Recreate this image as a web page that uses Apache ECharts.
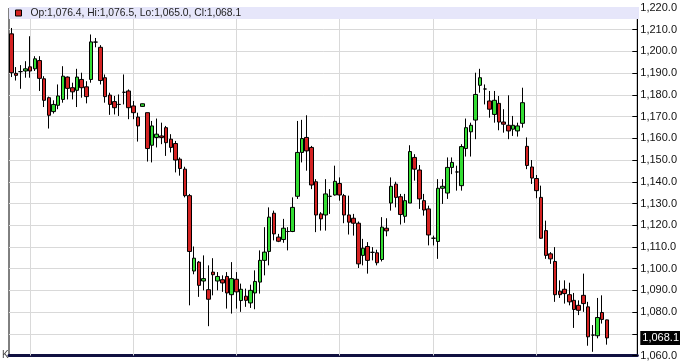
<!DOCTYPE html>
<html>
<head>
<meta charset="utf-8">
<script src="https://cdn.jsdelivr.net/npm/echarts@6/dist/echarts.min.js"></script>
<style>html,body{margin:0;padding:0;background:#fff}#c{width:680px;height:361px}</style>
</head>
<body>
<div id="c"></div>
<script>
// Daily OHLC values: [open, high, low, close]
const ohlc = [
[1208.1,1210.8,1188.2,1190.2],[1189.9,1192.8,1186.6,1189.0],[1190.7,1193.7,1182.8,1190.7],[1191.0,1195.5,1187.9,1192.0],
[1192.9,1207.0,1187.9,1191.0],[1192.0,1197.8,1191.0,1196.6],[1195.8,1197.8,1181.8,1187.6],[1187.4,1188.6,1174.4,1177.5],
[1178.7,1179.2,1164.5,1170.6],[1172.3,1177.5,1171.4,1175.6],[1175.2,1184.8,1173.4,1179.5],[1177.9,1193.2,1176.4,1188.6],
[1188.2,1188.5,1177.9,1183.0],[1183.3,1185.6,1177.9,1181.4],[1182.1,1192.0,1174.4,1188.2],[1187.1,1190.2,1178.7,1183.3],
[1183.7,1186.3,1176.1,1179.2],[1187.1,1207.8,1185.6,1204.4],[1204.3,1206.2,1201.9,1204.3],[1201.9,1202.9,1184.8,1186.6],
[1187.9,1189.4,1176.4,1179.2],[1179.9,1181.0,1170.8,1175.6],[1176.9,1179.5,1171.0,1174.1],[1175.6,1180.2,1170.3,1175.6],
[1181.2,1189.4,1175.6,1181.2],[1181.8,1182.5,1168.8,1174.1],[1174.9,1177.2,1168.8,1171.8],[1169.8,1171.8,1158.5,1165.7],
[1174.7,1176.0,1174.5,1175.9],[1171.8,1171.8,1149.3,1155.3],[1156.8,1168.0,1148.9,1165.7],[1160.4,1169.1,1155.8,1161.9],
[1161.1,1167.2,1157.3,1160.4],[1164.9,1165.7,1151.9,1158.0],[1159.6,1161.9,1153.5,1155.8],[1157.6,1158.8,1144.3,1150.0],
[1150.4,1151.2,1142.8,1146.1],[1145.8,1146.9,1132.8,1133.6],[1133.6,1134.4,1083.1,1107.9],[1098.9,1110.2,1097.4,1104.8],
[1103.0,1103.5,1087.0,1092.3],[1094.3,1106.1,1090.0,1095.4],[1090.3,1101.5,1073.5,1085.9],[1098.4,1104.8,1087.7,1097.2],
[1094.3,1098.4,1090.0,1096.4],[1094.9,1096.9,1089.3,1093.4],[1096.4,1098.4,1081.6,1088.8],[1088.0,1103.0,1079.3,1095.4],
[1095.1,1098.4,1081.6,1089.3],[1085.3,1093.1,1080.1,1090.5],[1087.3,1090.8,1082.4,1085.4],[1084.2,1092.6,1081.9,1090.0],
[1088.8,1099.2,1081.3,1094.1],[1093.8,1108.4,1088.5,1103.8],[1103.8,1119.1,1096.9,1107.6],[1107.9,1128.2,1101.5,1123.7],
[1125.5,1126.7,1113.0,1116.0],[1114.5,1116.0,1112.2,1112.6],[1113.4,1122.9,1111.9,1118.6],[1117.1,1119.1,1108.4,1117.1],
[1117.1,1132.8,1116.8,1128.2],[1133.3,1168.0,1132.1,1153.5],[1153.5,1168.5,1148.9,1159.9],[1160.4,1170.6,1145.1,1154.2],
[1155.8,1156.5,1136.6,1138.5],[1140.0,1141.2,1116.8,1124.7],[1125.2,1126.0,1117.5,1122.9],[1124.7,1141.2,1117.5,1134.4],
[1133.3,1136.6,1125.2,1133.3],[1133.9,1147.4,1133.6,1140.2],[1139.2,1142.0,1131.3,1133.9],[1133.6,1134.4,1120.9,1124.7],
[1124.7,1133.6,1115.7,1121.4],[1123.2,1125.2,1115.2,1120.9],[1120.9,1121.7,1100.3,1102.2],[1106.1,1113.7,1101.5,1109.4],
[1110.2,1112.2,1097.7,1103.8],[1107.5,1109.9,1103.8,1107.5],[1107.3,1108.7,1101.5,1102.7],[1104.2,1123.7,1103.3,1119.1],
[1118.6,1123.2,1114.9,1117.4],[1130.2,1142.0,1126.7,1137.9],[1138.9,1140.0,1128.2,1132.8],[1133.1,1134.4,1120.3,1124.9],
[1124.1,1134.4,1121.1,1131.3],[1130.2,1156.8,1130.2,1153.9],[1151.2,1152.7,1140.5,1145.8],[1145.4,1147.7,1127.5,1132.1],
[1131.3,1134.4,1124.4,1127.0],[1127.5,1129.0,1110.7,1115.5],[1114.0,1115.2,1110.7,1114.0],[1112.5,1141.2,1104.5,1137.0],
[1137.0,1141.2,1129.8,1137.9],[1134.8,1151.2,1132.1,1146.6],[1146.6,1151.2,1143.5,1148.9],[1144.5,1147.4,1135.9,1144.5],
[1138.2,1157.3,1135.9,1156.2],[1155.3,1169.1,1151.6,1164.9],[1163.0,1167.2,1151.6,1166.0],[1168.4,1190.2,1159.6,1180.2],
[1184.4,1192.0,1181.0,1187.9],[1182.7,1184.8,1175.6,1182.7],[1177.2,1181.8,1169.5,1173.4],[1171.0,1181.8,1167.2,1177.5],
[1176.1,1179.5,1163.7,1167.5],[1167.5,1173.4,1162.6,1166.5],[1166.0,1179.8,1159.6,1163.4],[1164.2,1170.3,1161.1,1166.0],
[1163.4,1167.2,1160.8,1165.7],[1166.9,1183.3,1164.9,1176.4],[1156.3,1160.4,1145.8,1147.5],[1146.8,1150.0,1139.0,1141.7],
[1141.5,1143.1,1132.4,1135.9],[1132.8,1138.2,1113.7,1114.0],[1117.5,1122.1,1104.5,1106.1],[1106.8,1107.6,1102.2,1104.5],
[1103.3,1109.9,1084.7,1088.0],[1089.6,1094.6,1086.5,1088.0],[1090.5,1094.6,1083.9,1088.5],[1088.0,1093.5,1083.1,1084.7],
[1085.4,1088.8,1072.7,1081.2],[1083.1,1085.4,1078.6,1080.8],[1087.7,1097.7,1080.1,1083.9],[1082.4,1084.7,1064.5,1068.6],
[1069.4,1074.0,1061.7,1069.4],[1069.1,1086.5,1067.9,1077.5],[1079.8,1087.7,1074.7,1076.6],[1076.4,1076.5,1065.0,1068.1]
];
const emptySlots = 6;                 // blank trading days kept at the right edge
const gridDays = [4, 26, 48, 70, 90, 112]; // day indices carrying a vertical gridline
const yMin = 1060, yMax = 1220, yStep = 10;
const lastBar = { op: 1076.4, hi: 1076.5, lo: 1065.0, cl: 1068.1 };

const categories = [];
for (let i = 0; i < ohlc.length + emptySlots; i++) categories.push('D' + (i + 1));

const fmt = v => v.toLocaleString('en-US', { minimumFractionDigits: 1, maximumFractionDigits: 1 });
const legendName = 'Op:' + fmt(lastBar.op) + ', Hi:' + fmt(lastBar.hi) + ', Lo:' + fmt(lastBar.lo) + ', Cl:' + fmt(lastBar.cl);
const candleData = ohlc.map(d => [d[0], d[3], d[2], d[1]]);

const RED = '#d42222', GREEN = '#33dd33';
const chart = echarts.init(document.getElementById('c'), null, { renderer: 'canvas' });
chart.setOption({
  animation: false,
  backgroundColor: '#fff',
  textStyle: { fontFamily: 'Liberation Sans, Arial, sans-serif' },
  grid: { left: 9, right: 41, top: 8, bottom: 4, show: true, borderColor: '#000', borderWidth: 1, backgroundColor: '#fff' },
  graphic: [
    { type: 'rect', left: 9, top: 7, shape: { width: 630, height: 12 }, style: { fill: '#e6e6fa' }, z: 50, silent: true },
    { type: 'text', left: 2, top: 350, style: { text: 'K', fontSize: 10, fill: '#444', fontFamily: 'Liberation Sans, Arial, sans-serif' }, z: 60 }
  ],
  legend: {
    left: 14, top: 7, z: 60, padding: [1, 1],
    icon: 'rect', itemWidth: 6, itemHeight: 6, itemGap: 4,
    textStyle: { fontSize: 10.3, color: '#222', padding: [1, 0, 0, 4] },
    data: [{ name: legendName, itemStyle: { color: RED, borderColor: '#000', borderWidth: 1 } }]
  },
  xAxis: {
    type: 'category', data: categories, boundaryGap: true,
    axisLine: { show: true, lineStyle: { color: '#101040', width: 3 } },
    axisTick: { show: false }, axisLabel: { show: false }, splitLine: { show: false }
  },
  yAxis: {
    type: 'value', position: 'right', min: yMin, max: yMax, interval: yStep, scale: true,
    axisLine: { show: true, lineStyle: { color: '#000', width: 1 } },
    axisTick: { show: true, inside: true, length: 5, lineStyle: { color: '#000' } },
    axisLabel: { show: true, margin: 3, fontSize: 11, color: '#111',
      formatter: v => (Math.abs(v - 1070) < 0.01 ? '' : fmt(v)) },
    splitLine: { show: true, lineStyle: { color: '#d9d9d9', width: 1 } }
  },
  series: [
    {
      name: 'grid', type: 'line', data: [], z: 1, silent: true,
      markLine: {
        silent: true, symbol: 'none', animation: false,
        label: { show: false },
        lineStyle: { color: '#d9d9d9', width: 1, type: 'solid' },
        data: gridDays.map(i => ({ xAxis: categories[i] }))
      }
    },
    {
      name: legendName, type: 'candlestick', data: candleData, z: 5,
      barWidth: 4,
      itemStyle: { color: GREEN, color0: RED, borderColor: '#000', borderColor0: '#000', borderColorDoji: '#000', borderWidth: 1 },
      markLine: {
        silent: true, symbol: 'none', animation: false, z: 20,
        data: [{
          yAxis: lastBar.cl,
          lineStyle: { color: 'rgba(0,0,0,0)', width: 1, opacity: 1 },
          label: { show: true, position: 'end', distance: 3, formatter: fmt(lastBar.cl), color: '#fff',
            backgroundColor: '#000', padding: [2, 2, 1, 2], fontSize: 11, opacity: 1 }
        }]
      }
    }
  ]
});
</script>
</body>
</html>
